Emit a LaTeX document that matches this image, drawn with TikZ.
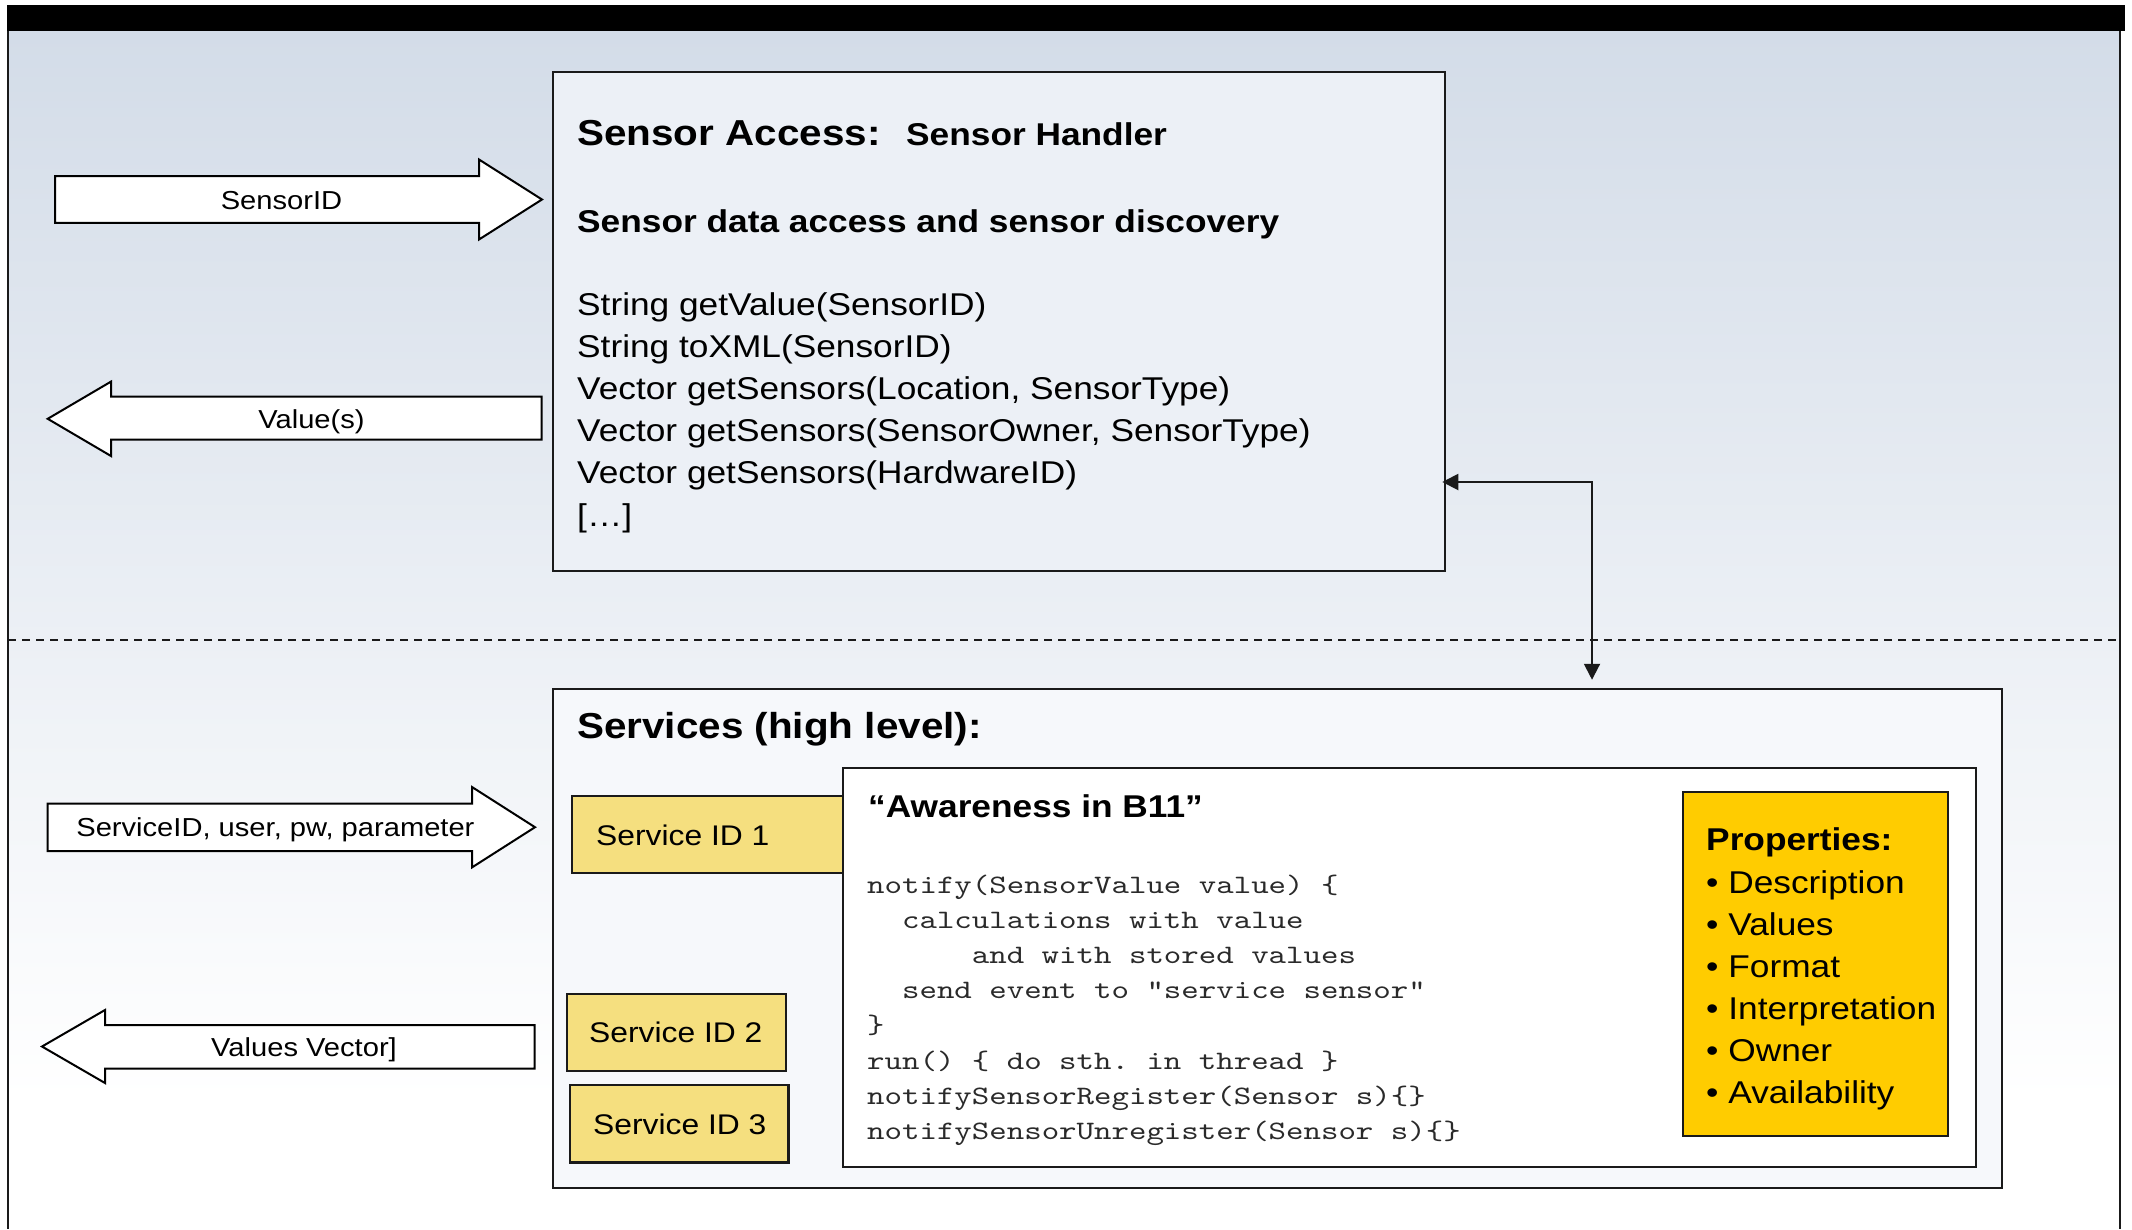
\documentclass[tikz,border=0pt]{standalone}
\usepackage{fontspec}
\setmainfont{Liberation Sans}[FakeStretch=1.12]
\newfontfamily\codefont{lmmono10-regular.otf}[FakeStretch=1.25]
\usetikzlibrary{arrows.meta}
\frenchspacing
\definecolor{bgtop}{HTML}{D3DCE8}
\definecolor{safill}{HTML}{ECF0F6}
\definecolor{svfill}{HTML}{F6F8FB}
\definecolor{idfill}{HTML}{F5DF7F}
\definecolor{propfill}{HTML}{FFCC00}
\definecolor{edge}{HTML}{1A1A1A}
\definecolor{codecol}{HTML}{2A2A2A}
\newcommand{\fTitle}{\fontsize{36.1}{42}\selectfont\bfseries}
\newcommand{\fMid}{\fontsize{31.5}{37}\selectfont}
\newcommand{\fId}{\fontsize{28.4}{33}\selectfont}
\newcommand{\fArr}{\fontsize{26}{30}\selectfont}
\newcommand{\fCode}{\codefont\fontsize{26.6}{35}\selectfont\color{codecol}}
\tikzset{
  box/.style={draw=edge, line width=2.5pt, inner sep=0pt, rectangle},
  blockarrow/.style={draw=black, fill=white, line width=2pt, line join=miter},
  txt/.style={inner sep=0pt, anchor=base west},
  ctxt/.style={inner sep=0pt, anchor=base},
  conn/.style={line width=2pt, draw=edge, {Triangle[length=16pt,width=16pt]}-{Triangle[length=16pt,width=16pt]}},
}
\begin{document}
\begin{tikzpicture}[x=1pt,y=-1pt]
\useasboundingbox (0,0) rectangle (2132,1229);
% background
\fill[white] (0,0) rectangle (2132,1229);
\shade[top color=bgtop, bottom color=white] (8,31) rectangle (2120,1100);
\fill[white] (8,1100) rectangle (2120,1229);
\fill[black] (7,5) rectangle (2125,31);
\draw[line width=2.5pt, edge] (8,31) -- (8,1229);
\draw[line width=2.5pt, edge] (2120,31) -- (2120,1229);
\draw[line width=2pt, edge, dash pattern=on 8pt off 6pt] (8,640) -- (2120,640);

% ---------- Sensor Access box ----------
\node[box, fill=safill, minimum width=892pt, minimum height=499pt] (sa) at (999,321.5) {};
\node[txt] (satitle) at (577,145) {\fTitle Sensor Access:};
\node[txt] (sahandler) at (906,145) {\fMid\bfseries Sensor Handler};
\node[txt] (sasub) at (577,232) {\fMid\bfseries Sensor data access and sensor discovery};
\node[txt] (m0) at (577,315) {\fMid String getValue(SensorID)};
\node[txt] (m1) at (577,357) {\fMid String toXML(SensorID)};
\node[txt] (m2) at (577,399) {\fMid Vector getSensors(Location, SensorType)};
\node[txt] (m3) at (577,441) {\fMid Vector getSensors(SensorOwner, SensorType)};
\node[txt] (m4) at (577,483) {\fMid Vector getSensors(HardwareID)};
\node[txt] (m5) at (577,526) {\fMid […]};

% ---------- block arrows (upper) ----------
\draw[blockarrow] (55,176.2) -- (479,176.2) -- (479,159.5) -- (542,199.5) -- (479,239.5) -- (479,222.8) -- (55,222.8) -- cycle;
\node[ctxt] (lsensorid) at (281.5,209) {\fArr SensorID};
\draw[blockarrow] (541.6,396.6) -- (111,396.6) -- (111,381.6) -- (47.7,418.8) -- (111,456) -- (111,439.7) -- (541.6,439.7) -- cycle;
\node[ctxt] (lvalues) at (311.5,428) {\fArr Value(s)};

% ---------- Services box ----------
\node[box, fill=svfill, minimum width=1449pt, minimum height=499pt] (sv) at (1277.5,938.5) {};
\node[txt] (svtitle) at (577,738) {\fTitle Services (high level):};

\node[box, fill=idfill, minimum width=271pt, minimum height=77pt] (id1) at (707.5,834.5) {};
\node[box, fill=idfill, minimum width=219pt, minimum height=77pt] (id2) at (676.5,1032.5) {};
\node[box, fill=idfill, minimum width=218.5pt, minimum height=77.5pt] (id3) at (679.2,1123.7) {};
\node[txt] (id1t) at (596,845) {\fId Service ID 1};
\node[txt] (id2t) at (589,1042.5) {\fId Service ID 2};
\node[txt] (id3t) at (593,1134.5) {\fId Service ID 3};

\node[box, fill=white, minimum width=1133pt, minimum height=399pt] (aw) at (1409.5,967.5) {};
\node[txt] (awtitle) at (868,817) {\fMid\bfseries “Awareness in B11”};
\node[txt] (c0) at (867,893) {\fCode notify(SensorValue value) \{};
\node[txt] (c1) at (867,928) {\fCode ~~calculations with value};
\node[txt] (c2) at (867,963) {\fCode ~~~~~~and with stored values};
\node[txt] (c3) at (867,998) {\fCode ~~send event to “service sensor”};
\node[txt] (c4) at (867,1033) {\fCode \}};
\node[txt] (c5) at (867,1069) {\fCode run() \{ do sth. in thread \}};
\node[txt] (c6) at (867,1104) {\fCode notifySensorRegister(Sensor s)\{\}};
\node[txt] (c7) at (867,1139) {\fCode notifySensorUnregister(Sensor s)\{\}};

\node[box, fill=propfill, minimum width=265pt, minimum height=344pt] (pr) at (1815.5,964) {};
\node[txt] (prtitle) at (1706,850) {\fMid\bfseries Properties:};
\node[txt] (p0) at (1706,893) {\fMid • Description};
\node[txt] (p1) at (1706,935) {\fMid • Values};
\node[txt] (p2) at (1706,977) {\fMid • Format};
\node[txt] (p3) at (1706,1019) {\fMid • Interpretation};
\node[txt] (p4) at (1706,1061) {\fMid • Owner};
\node[txt] (p5) at (1706,1103) {\fMid • Availability};

% ---------- block arrows (lower) ----------
\draw[blockarrow] (47.7,803.7) -- (472,803.7) -- (472,787) -- (535,827.2) -- (472,867.4) -- (472,851) -- (47.7,851) -- cycle;
\node[ctxt] (lservice) at (275.4,836.5) {\fArr ServiceID, user, pw, parameter};
\draw[blockarrow] (534.6,1025) -- (105,1025) -- (105,1010) -- (42,1046.5) -- (105,1083) -- (105,1068.5) -- (534.6,1068.5) -- cycle;
\node[ctxt] (lvector) at (304,1056) {\fArr Values Vector]};

% ---------- connector ----------
\coordinate (elb) at (1592,482);
\draw[conn, shorten <=-4pt, shorten >=8pt] (sa.east |- elb) -- (elb) -- (sv.north -| elb);
\end{tikzpicture}
\end{document}
